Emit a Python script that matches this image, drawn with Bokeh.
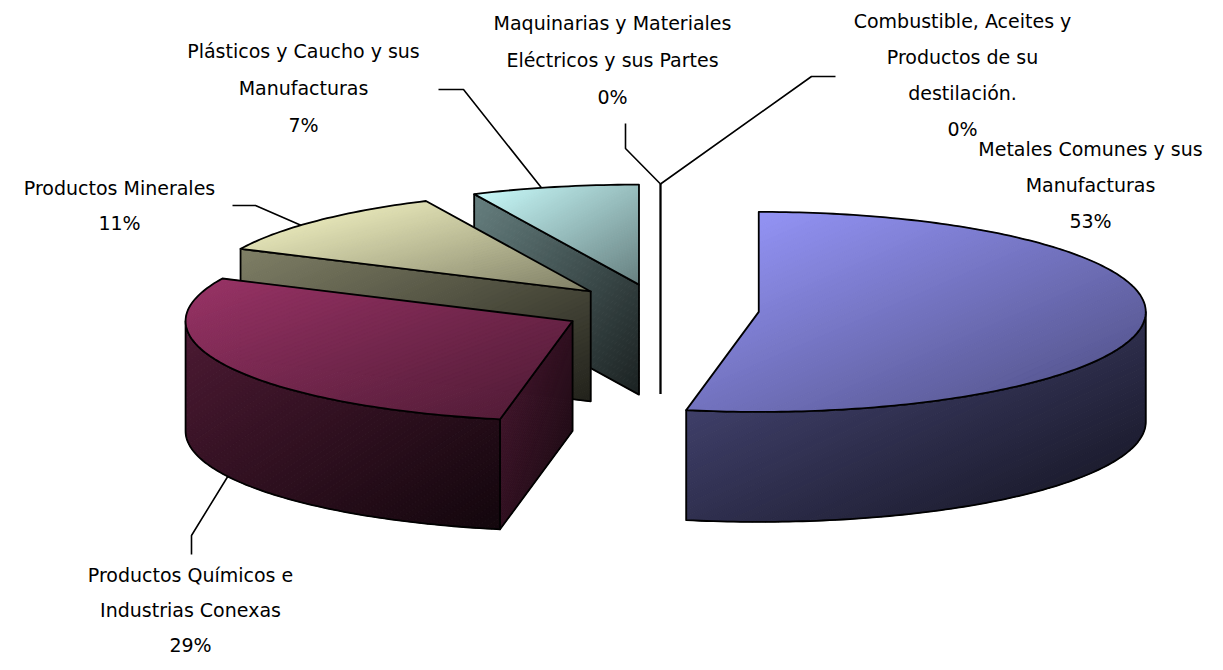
import numpy as np
from bokeh.plotting import figure
from bokeh.models import Range1d, ColumnDataSource
from bokeh.embed import file_html
from bokeh.resources import INLINE
from bokeh.core.properties import value

# ---------------- data ----------------
categories = [
    "Metales Comunes y sus Manufacturas",
    "Productos Químicos e Industrias Conexas",
    "Productos Minerales",
    "Plásticos y Caucho y sus Manufacturas",
    "Maquinarias y Materiales Eléctricos y sus Partes",
    "Combustible, Aceites y Productos de su destilación.",
]
shares = [53, 29, 11, 7, 0, 0]
label_lines = [
    ["Metales Comunes y sus", "Manufacturas"],
    ["Productos Químicos e", "Industrias Conexas"],
    ["Productos Minerales"],
    ["Plásticos y Caucho y sus", "Manufacturas"],
    ["Maquinarias y Materiales", "Eléctricos y sus Partes"],
    ["Combustible, Aceites y", "Productos de su", "destilación."],
]
colors = ["#9999FF", "#993366", "#FFFFCC", "#CCFFFF", "#660066", "#FF8080"]

# ---------------- layout (pixel space of the figure) ----------------
W, H = 1207, 654
CX, CY = 660.0, 309.0
RX, RY = 387.0, 100.0
DEPTH = 110.0
EXPLODE = 0.255
FONT = "DejaVu Sans"
FONT_SIZE = "19px"
label_pos = [(1090, 148), (190, 574), (119, 187), (303, 50), (612, 22), (962, 20)]
label_step = [36, 35, 35, 37, 37, 36]
leader_elbows = [None, [(191, 554), (191, 535)], [(232, 205), (255, 205)],
                 [(438, 89), (463, 89)], [(625, 123), (625, 148)], [(835, 76), (811, 76)]]
leader_attach = [None, "bottom", "top", "top", "top", "top"]
leader_shift = [0.0, 0.0, -3.5, -2.0, 0.0, 0.0]  # degrees from the slice's mid-angle
N_STRIPS = 70
EDGE_W = 1.8

p = figure(width=W, height=H, x_range=Range1d(0, W), y_range=Range1d(H, 0),
           output_backend="svg", toolbar_location=None, min_border=0)
p.xaxis.visible = False
p.yaxis.visible = False
p.xgrid.visible = False
p.ygrid.visible = False
p.outline_line_color = None
p.background_fill_color = "white"
p.border_fill_color = "white"


def shade(hexc, f):
    rgb = [int(hexc[i:i + 2], 16) for i in (1, 3, 5)]
    return "#%02x%02x%02x" % tuple(int(round(max(0, min(255, c * f)))) for c in rgb)


def clip(poly, a, b, c):
    """keep the part of poly where a*x + b*y + c >= 0"""
    out = []
    n = len(poly)
    for i in range(n):
        P, Q = poly[i], poly[(i + 1) % n]
        fp = a * P[0] + b * P[1] + c
        fq = a * Q[0] + b * Q[1] + c
        if fp >= 0:
            out.append(P)
        if (fp >= 0) != (fq >= 0):
            t = fp / (fp - fq)
            out.append((P[0] + t * (Q[0] - P[0]), P[1] + t * (Q[1] - P[1])))
    return out


def draw_face(px, py, base, f0, f1):
    px = np.asarray(px, float)
    py = np.asarray(py, float)
    poly = list(zip(px, py))
    xmin, xmax, ymin, ymax = px.min(), px.max(), py.min(), py.max()
    w = max(xmax - xmin, 1e-6)
    h = max(ymax - ymin, 1e-6)
    a, b = 1.0 / (2 * w), 1.0 / (2 * h)
    c0 = -xmin / (2 * w) - ymin / (2 * h)
    xs, ys, cols = [], [], []
    for k in range(N_STRIPS):
        lo, hi = k / N_STRIPS, (k + 1) / N_STRIPS
        if k == 0:
            lo = -1.0
        if k == N_STRIPS - 1:
            hi = 2.0
        part = clip(poly, a, b, c0 - lo)
        if len(part) < 3:
            continue
        part = clip(part, -a, -b, -(c0 - hi))
        if len(part) < 3:
            continue
        t = (k + 0.5) / N_STRIPS
        xs.append([q[0] for q in part])
        ys.append([q[1] for q in part])
        cols.append(shade(base, f0 + (f1 - f0) * t))
    src = ColumnDataSource(dict(xs=xs, ys=ys, c=cols))
    p.patches("xs", "ys", source=src, fill_color="c", line_color="c", line_width=1.0)
    p.patches([list(px)], [list(py)], fill_alpha=0, line_color="black", line_width=EDGE_W,
              line_join="round")


total = float(sum(shares))
starts = np.cumsum([0] + shares[:-1]) / total * 2 * np.pi
ends = np.cumsum(shares) / total * 2 * np.pi

slices = []
for k in range(len(shares)):
    a0, a1 = starts[k], ends[k]
    mid = 0.5 * (a0 + a1)
    ox = CX + EXPLODE * RX * np.sin(mid)
    oy = CY - EXPLODE * RY * np.cos(mid)
    slices.append((k, a0, a1, mid, ox, oy))

# painter's order: back (small oy) first
order = sorted(slices, key=lambda s: s[5])

for (k, a0, a1, mid, ox, oy) in order:
    base = colors[k]
    span = a1 - a0
    if span <= 1e-9:
        # zero slice seen edge-on: its radial face collapses to a line
        p.line([ox + RX * np.sin(a0), ox, ox],
               [oy - RY * np.cos(a0), oy, oy + DEPTH], line_color="black", line_width=EDGE_W)
        continue
    # curved outer side (front half only)
    b0, b1 = max(a0, np.pi / 2), min(a1, 1.5 * np.pi)
    if b1 > b0:
        th = np.linspace(b0, b1, max(3, int(np.degrees(b1 - b0))))
        rx_ = ox + RX * np.sin(th)
        ry_ = oy - RY * np.cos(th)
        outx = np.concatenate([rx_, rx_[::-1]])
        outy = np.concatenate([ry_, (ry_ + DEPTH)[::-1]])
        draw_face(outx, outy, base, 0.5, 0.12)
    # radial cut faces
    for a, vis in ((a0, np.sin(a0) < -1e-6), (a1, np.sin(a1) > 1e-6)):
        if vis:
            outx = [ox, ox + RX * np.sin(a), ox + RX * np.sin(a), ox]
            outy = [oy, oy - RY * np.cos(a), oy - RY * np.cos(a) + DEPTH, oy + DEPTH]
            draw_face(outx, outy, base, 0.5, 0.13)
    # top face
    th = np.linspace(a0, a1, max(3, int(np.degrees(span))))
    outx = np.concatenate([[ox], ox + RX * np.sin(th)])
    outy = np.concatenate([[oy], oy - RY * np.cos(th)])
    draw_face(outx, outy, base, 1.0, 0.5)

# leader lines
for (k, a0, a1, mid, ox, oy) in slices:
    if leader_elbows[k] is None:
        continue
    ang = mid + np.radians(leader_shift[k])
    ax_ = ox + RX * np.sin(ang)
    ay_ = oy - RY * np.cos(ang)
    if leader_attach[k] == "bottom":
        ay_ += DEPTH
    xs = [pt[0] for pt in leader_elbows[k]] + [ax_]
    ys = [pt[1] for pt in leader_elbows[k]] + [ay_]
    p.line(xs, ys, line_color="black", line_width=1.6)

# labels
tx, ty, tt = [], [], []
for k in range(len(shares)):
    x0, y0 = label_pos[k]
    lines = label_lines[k] + ["%d%%" % round(shares[k] / total * 100)]
    for i, s in enumerate(lines):
        tx.append(x0)
        ty.append(y0 + i * label_step[k])
        tt.append(s)
p.text(x="x", y="y", text="t", source=ColumnDataSource(dict(x=tx, y=ty, t=tt)),
       text_align="center", text_baseline="middle", text_font=value(FONT),
       text_font_size=FONT_SIZE, text_color="black")

open("out.html", "w").write(file_html(p, INLINE))
